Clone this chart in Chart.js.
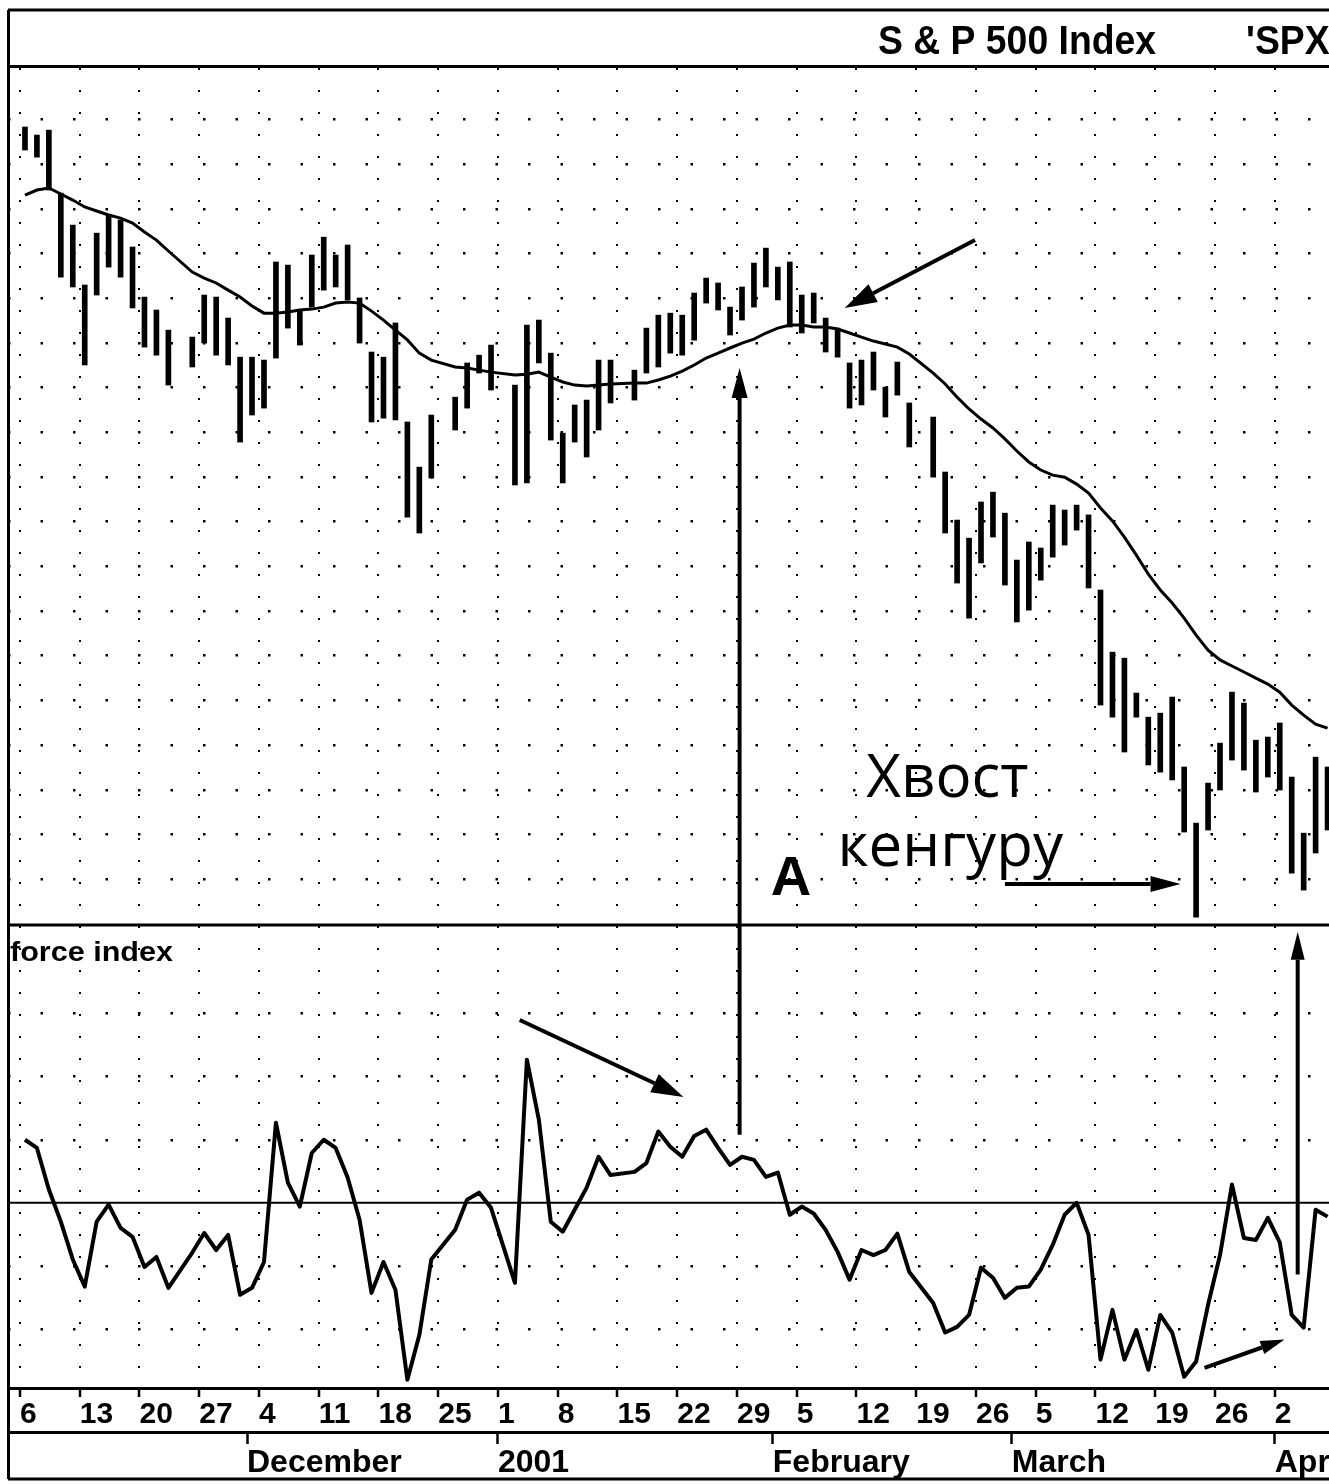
<!DOCTYPE html>
<html lang="ru">
<head>
<meta charset="UTF-8">
<title>S &amp; P 500 Index - force index</title>
<script src="https://cdn.jsdelivr.net/npm/chart.js@4.4.1/dist/chart.umd.min.js"></script>
<style>
    html, body {
        margin: 0;
        padding: 0;
        background: #fff;
        overflow: hidden;
    }
    #wrap {
        width: 1329px;
        height: 1484px;
    }
</style>
</head>
<body>
<div id="wrap"><canvas id="chart" width="1329" height="1484"></canvas></div>
<script>
// one slot per weekday starting Mon Nov 6 2000, null = market holiday
const priceHigh = [
    1433.6, 1430.0, 1432.2, 1404.0, 1389.7, 1362.9, 1386.1, 1394.2, 1392.0, 1379.9,
    1357.5, 1351.7, 1342.7, null, 1339.6, 1358.4, 1357.5, 1348.1, 1330.6, 1330.6,
    1329.3, 1373.2, 1371.8, 1351.7, 1376.3, 1384.3, 1376.3, 1380.8, 1357.1, 1332.9,
    1330.6, 1345.9, 1301.6, 1281.4, 1304.7, null, 1312.7, 1328.0, 1331.5, 1336.0,
    null, 1318.1, 1345.0, 1347.2, 1332.4, 1296.6, 1309.2, 1311.4, 1329.3, 1329.3,
    null, 1324.8, 1343.6, 1349.4, 1350.3, 1349.4, 1359.3, 1366.0, 1363.8, 1353.0,
    1362.0, 1372.7, 1379.4, 1370.9, 1373.2, 1358.4, 1359.3, 1348.1, 1343.6, 1328.0,
    1329.3, 1332.9, 1317.2, 1328.4, 1310.1, null, 1303.8, 1279.2, 1257.7, 1249.6,
    1265.8, 1270.2, 1260.8, 1239.8, 1247.9, 1245.2, 1264.4, 1262.2, 1264.4, 1260.0,
    1226.4, 1198.6, 1195.9, 1180.3, 1169.5, 1171.3, 1178.5, 1147.2, 1122.1, 1140.0,
    1157.9, 1180.7, 1175.8, 1159.2, 1160.6, 1166.9, 1142.7, 1117.6, 1151.6, 1147.2
];
const priceLow = [
    1423.3, 1420.1, 1405.4, 1366.4, 1362.0, 1327.1, 1358.4, 1370.9, 1366.4, 1352.6,
    1335.1, 1331.5, 1318.1, null, 1326.2, 1336.9, 1331.5, 1327.1, 1292.6, 1304.7,
    1307.8, 1330.2, 1343.6, 1336.0, 1353.0, 1360.6, 1362.0, 1356.2, 1336.9, 1301.6,
    1303.3, 1302.5, 1259.0, 1251.9, 1276.5, null, 1298.0, 1307.8, 1323.5, 1315.9,
    null, 1273.4, 1274.3, 1328.0, 1293.5, 1274.3, 1292.6, 1285.9, 1298.0, 1310.1,
    null, 1311.4, 1323.5, 1326.2, 1332.4, 1331.5, 1338.2, 1354.8, 1351.7, 1340.5,
    1347.2, 1353.0, 1362.0, 1356.2, 1344.1, 1341.4, 1345.9, 1332.9, 1330.6, 1307.8,
    1309.2, 1315.9, 1303.8, 1313.6, 1290.4, null, 1276.9, 1251.9, 1229.5, 1213.8,
    1238.5, 1250.1, 1228.6, 1212.1, 1217.4, 1230.8, 1241.1, 1246.5, 1253.2, 1227.3,
    1174.9, 1169.5, 1153.9, 1169.5, 1148.1, 1144.9, 1141.4, 1118.1, 1080.0, 1119.0,
    1136.9, 1150.3, 1145.8, 1136.0, 1142.7, 1136.9, 1099.7, 1092.1, 1108.7, 1119.0
];
const emaLine = [
    1403.1, 1405.4, 1406.3, 1403.6, 1400.9, 1397.8, 1396.0, 1394.2, 1392.8, 1390.6,
    1386.6, 1383.0, 1378.1, null, 1368.7, 1366.0, 1363.8, 1360.6, 1357.5, 1353.5,
    1350.3, 1350.3, 1350.8, 1351.7, 1352.1, 1353.0, 1354.8, 1355.3, 1354.8, 1351.2,
    1347.2, 1342.7, 1338.3, 1332.4, 1329.3, null, 1326.2, 1325.7, 1324.8, 1323.9,
    null, 1322.6, 1323.0, 1323.9, 1321.7, 1319.5, 1318.1, 1317.7, 1318.1, 1318.6,
    null, 1319.0, 1319.0, 1320.4, 1322.1, 1324.4, 1327.1, 1330.2, 1332.4, 1334.7,
    1336.9, 1338.7, 1341.4, 1343.6, 1345.0, 1345.0, 1344.1, 1344.1, 1343.2, 1341.4,
    1339.6, 1337.8, 1336.5, 1335.1, 1332.0, null, 1323.5, 1318.6, 1312.7, 1307.4,
    1302.9, 1298.9, 1294.0, 1288.6, 1283.7, 1280.1, 1277.8, 1276.9, 1273.8, 1269.8,
    1263.1, 1257.3, 1250.1, 1242.0, 1233.5, 1226.4, 1220.6, 1213.8, 1206.2, 1199.5,
    1195.1, 1192.4, 1189.7, 1187.0, 1184.3, 1180.7, 1174.9, 1170.4, 1166.4, 1164.6
];
const forceIndex = [
    10.0, 8.7, 2.1, -3.0, -9.0, -13.3, -3.0, -0.3, -4.0, -5.4,
    -10.2, -8.6, -13.5, null, -7.9, -4.8, -7.5, -5.1, -14.6, -13.5,
    -9.4, 12.7, 3.2, -0.6, 7.9, 10.0, 8.7, 4.0, -2.7, -14.3,
    -9.4, -13.8, -28.1, -21.0, -9.0, null, -4.3, 0.5, 1.6, -0.8,
    null, -12.7, 22.7, 13.2, -3.0, -4.6, -1.1, 2.4, 7.3, 4.4,
    null, 4.9, 6.3, 11.3, 8.9, 7.3, 10.6, 11.6, 8.7, 6.0,
    7.3, 6.8, 4.1, 4.8, -1.9, -0.6, -1.7, -4.3, -7.8, -12.2,
    -7.5, -8.3, -7.5, -4.9, -11.0, null, -15.9, -20.6, -19.7, -17.8,
    -10.3, -11.9, -15.1, -13.5, -13.3, -10.6, -6.7, -1.9, 0.0, -5.1,
    -24.9, -17.0, -24.9, -20.2, -26.5, -17.8, -20.6, -27.6, -25.2, -16.2,
    -8.3, 2.9, -5.6, -5.9, -2.4, -6.3, -17.8, -19.8, -1.1, -2.2
];

// axis labels
const weekTickSlots = [0, 5, 10, 15, 20, 25, 30, 35, 40, 45, 50, 55, 60, 65, 70, 75, 80, 85, 90, 95, 100, 105];
const weekTickLabels = ['6', '13', '20', '27', '4', '11', '18', '25', '1', '8', '15',
    '22', '29', '5', '12', '19', '26', '5', '12', '19', '26', '2'];
const monthTickSlots = [19, 40, 63, 83, 105];
const monthTickLabels = ['December', '2001', 'February', 'March', 'April'];

// annotations: [slotFrom, valueFrom, axisFrom, slotTo, valueTo, axisTo, headLen, headWidth]
const arrowNotes = [
    [59.8, 10.8, 'yF', 59.8, 1325.7, 'yP', 30, 16],
    [79.5, 1383.0, 'yP', 68.6, 1352.6, 'yP', 32, 20],
    [41.4, 29.0, 'yF', 55.1, 16.8, 'yF', 32, 20],
    [82.0, 1094.8, 'yP', 96.7, 1094.8, 'yP', 30, 16],
    [106.5, -11.4, 'yF', 106.5, 43.0, 'yF', 28, 14],
    [98.7, -26.2, 'yF', 105.4, -21.7, 'yF', 24, 14]
];
const textNotes = [
    ['A', 62.4, 1089.9, 'bold 56px "Liberation Sans", Arial, sans-serif'],
    ['Хвост', 70.4, 1133.7, '60px "Open Sans", "Noto Sans", sans-serif'],
    ['кенгуру', 68.0, 1102.9, '60px "Open Sans", "Noto Sans", sans-serif']
];

const priceFloor = 1076.5;   // bottom edge of the price pane
const slotShift = 0.42;      // ticks sit a little left of the Monday bar
const narrow = '"Liberation Sans Narrow", "Liberation Sans", Arial, sans-serif';

function fitText(ctx, txt, x, y, font, width) {
    ctx.font = font;
    const k = width / ctx.measureText(txt).width;
    ctx.save();
    ctx.translate(x, y);
    ctx.scale(k, 1);
    ctx.fillText(txt, 0, 0);
    ctx.restore();
    return k;
}

function drawArrow(ctx, x1, y1, x2, y2, lw, hl, hw) {
    const a = Math.atan2(y2 - y1, x2 - x1);
    const bx = x2 - hl * Math.cos(a), by = y2 - hl * Math.sin(a);
    ctx.lineWidth = lw;
    ctx.beginPath();
    ctx.moveTo(x1, y1);
    ctx.lineTo(bx, by);
    ctx.stroke();
    ctx.beginPath();
    ctx.moveTo(x2, y2);
    ctx.lineTo(bx + hw / 2 * Math.sin(a), by - hw / 2 * Math.cos(a));
    ctx.lineTo(bx - hw / 2 * Math.sin(a), by + hw / 2 * Math.cos(a));
    ctx.closePath();
    ctx.fill();
}

// keep the x axes from shrinking the plot to fit the clipped last label
function noSidePad(s) {
    s.paddingLeft = 0;
    s.paddingRight = 0;
}

const framePlugin = {
    id: 'frame',
    beforeDraw(chart) {
        const c = chart.ctx;
        c.save();
        c.fillStyle = '#fff';
        c.fillRect(0, 0, chart.width, chart.height);
        c.restore();
    },
    afterDraw(chart) {
        const {ctx, chartArea: a, scales} = chart;
        const xs = scales.x;
        const sep = scales.yP.getPixelForValue(priceFloor);
        const zero = scales.yF.getPixelForValue(0);
        ctx.save();
        ctx.strokeStyle = '#000';
        ctx.fillStyle = '#000';

        // outer frame and pane separators
        ctx.lineWidth = 3;
        ctx.beginPath();
        ctx.moveTo(a.left, 10); ctx.lineTo(chart.width, 10);
        ctx.moveTo(a.left, a.top - 1.5); ctx.lineTo(chart.width, a.top - 1.5);
        ctx.moveTo(a.left, sep); ctx.lineTo(chart.width, sep);
        ctx.moveTo(a.left, chart.height - 5); ctx.lineTo(chart.width, chart.height - 5);
        ctx.moveTo(a.left + 0.5, 10); ctx.lineTo(a.left + 0.5, chart.height - 5);
        ctx.stroke();
        ctx.lineWidth = 2;
        ctx.beginPath();
        ctx.moveTo(a.left, zero); ctx.lineTo(chart.width, zero);
        ctx.stroke();

        // header
        ctx.textBaseline = 'alphabetic';
        const k = fitText(ctx, 'S & P 500 Index', 878, 54, 'bold 40px ' + narrow, 278);
        ctx.save();
        ctx.translate(1246, 54);
        ctx.scale(k, 1);
        ctx.fillText('\'SPX', 0, 0);
        ctx.restore();

        fitText(ctx, 'force index', a.left + 2, sep + 36, 'bold 27px ' + narrow, 163);

        // annotations
        textNotes.forEach(([txt, slot, val, font]) => {
            ctx.font = font;
            ctx.fillText(txt, xs.getPixelForValue(slot), scales.yP.getPixelForValue(val));
        });
        ctx.lineCap = 'butt';
        arrowNotes.forEach(([s1, v1, ax1, s2, v2, ax2, hl, hw]) => {
            drawArrow(ctx,
                xs.getPixelForValue(s1), scales[ax1].getPixelForValue(v1),
                xs.getPixelForValue(s2), scales[ax2].getPixelForValue(v2),
                4, hl, hw);
        });
        ctx.restore();
    }
};

const barData = [];
priceHigh.forEach((h, i) => {
    if (h !== null) barData.push({x: i, y: [priceLow[i], h]});
});

new Chart(document.getElementById('chart'), {
    type: 'line',
    data: {
        datasets: [
            {
                type: 'bar',
                label: 'S & P 500',
                data: barData,
                xAxisID: 'x',
                yAxisID: 'yP',
                backgroundColor: '#000',
                barThickness: 5,
                grouped: false
            },
            {
                label: 'Moving average',
                data: emaLine.map((v, i) => ({x: i, y: v})),
                xAxisID: 'x',
                yAxisID: 'yP',
                borderColor: '#000',
                borderWidth: 3,
                pointRadius: 0,
                spanGaps: true,
                tension: 0
            },
            {
                label: 'Force index',
                data: forceIndex.map((v, i) => ({x: i, y: v})),
                xAxisID: 'x',
                yAxisID: 'yF',
                borderColor: '#000',
                borderWidth: 4,
                borderJoinStyle: 'round',
                pointRadius: 0,
                spanGaps: true,
                tension: 0
            }
        ]
    },
    options: {
        responsive: false,
        devicePixelRatio: 1,
        animation: false,
        layout: {padding: {top: 68, left: 8, right: 0, bottom: 0}},
        plugins: {legend: {display: false}, tooltip: {enabled: false}},
        scales: {
            x: {
                type: 'linear',
                position: 'bottom',
                weight: 0,
                bounds: 'data',
                offset: false,
                min: -1.42,
                max: 109.12,
                afterBuildTicks: s => { s.ticks = weekTickSlots.map(v => ({value: v - slotShift})); },
                afterFit: s => { s.height = 44; noSidePad(s); },
                ticks: {
                    autoSkip: false,
                    maxRotation: 0,
                    minRotation: 0,
                    align: 'start',
                    padding: 0,
                    color: '#000',
                    font: {family: narrow, size: 30, weight: 'bold'},
                    callback: (v, i) => weekTickLabels[i]
                },
                grid: {color: '#000', lineWidth: 2, offset: false, tickLength: 9, tickWidth: 2.5, tickColor: '#000', tickBorderDash: []},
                border: {display: true, color: '#000', width: 3, dash: [2, 20]}
            },
            xM: {
                type: 'linear',
                position: 'bottom',
                weight: 1,
                bounds: 'data',
                offset: false,
                min: -1.42,
                max: 109.12,
                afterBuildTicks: s => { s.ticks = monthTickSlots.map(v => ({value: v - slotShift})); },
                afterFit: s => { s.height = 52; noSidePad(s); },
                ticks: {
                    autoSkip: false,
                    maxRotation: 0,
                    minRotation: 0,
                    align: 'start',
                    padding: 0,
                    color: '#000',
                    font: {family: narrow, size: 32, weight: 'bold'},
                    callback: (v, i) => monthTickLabels[i]
                },
                grid: {drawOnChartArea: false, tickLength: 12, tickWidth: 2.5, tickColor: '#000'},
                border: {display: true, color: '#000', width: 3}
            },
            yP: {
                type: 'linear',
                position: 'left',
                bounds: 'data',
                min: 869.3,
                max: 1460,
                afterBuildTicks: s => {
                    const t = [];
                    for (let v = 1437; v > priceFloor + 10; v -= 20) t.push({value: v});
                    s.ticks = t;
                },
                afterFit: s => { s.width = 0; },
                ticks: {display: false},
                grid: {color: '#000', lineWidth: 2.5, drawTicks: false},
                border: {display: false, dash: [2.5, 30]}
            },
            yF: {
                type: 'linear',
                position: 'left',
                bounds: 'data',
                min: -29.4,
                max: 180.1,
                afterBuildTicks: s => { s.ticks = [-20, -10, 10, 20, 30].map(v => ({value: v})); },
                afterFit: s => { s.width = 0; },
                ticks: {display: false},
                grid: {color: '#000', lineWidth: 2.5, drawTicks: false},
                border: {display: false, dash: [2.5, 30]}
            }
        }
    },
    plugins: [framePlugin]
});
</script>
</body>
</html>
